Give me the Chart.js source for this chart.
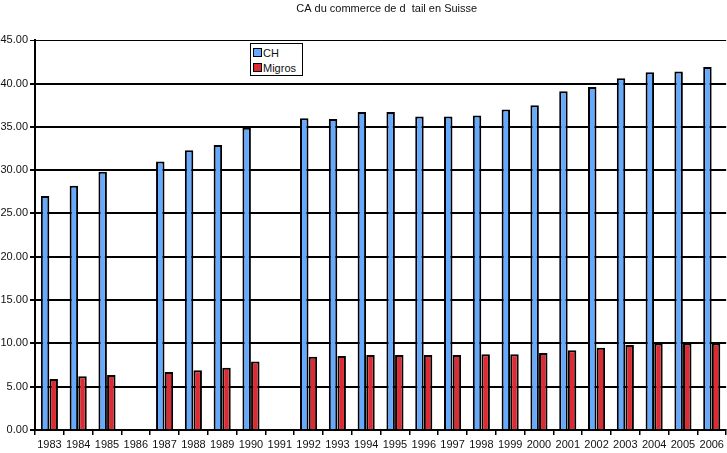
<!DOCTYPE html>
<html>
<head>
<meta charset="utf-8">
<script src="https://cdn.jsdelivr.net/npm/chart.js@4.4.0/dist/chart.umd.min.js"></script>
<style>
  body { margin: 0; background: #fff; }
  #wrap { position: relative; width: 727px; height: 453px; }
  #legend {
    position: absolute; left: 250px; top: 43px; width: 49px; height: 30px;
    border: 1.5px solid #000; background: #fff;
    font: 11px "Liberation Sans", Arial, sans-serif; color: #111;
    padding: 1px 0 0 2px;
  }
  #legend div { display: flex; align-items: center; height: 15px; }
  #legend span.sq { width: 7px; height: 7px; border: 1.5px solid #000; margin-right: 1px; }
</style>
</head>
<body>
<div id="wrap">
  <canvas id="myChart" width="727" height="453"></canvas>
  <div id="legend"></div>
</div>
<script>
const years = ['1983','1984','1985','1986','1987','1988','1989','1990','1991','1992','1993','1994',
  '1995','1996','1997','1998','1999','2000','2001','2002','2003','2004','2005','2006'];
const ch = [27.0, 28.2, 29.8, null, 31.0, 32.3, 32.9, 34.9, null, 36.0, 35.9, 36.7,
  36.7, 36.2, 36.2, 36.3, 37.0, 37.5, 39.1, 39.6, 40.6, 41.3, 41.4, 41.9];
const migros = [5.9, 6.2, 6.35, null, 6.7, 6.9, 7.2, 7.9, null, 8.45, 8.55, 8.65,
  8.65, 8.65, 8.65, 8.75, 8.75, 8.9, 9.2, 9.5, 9.8, 10.0, 10.0, 10.0];
const yTicks = [0, 5, 10, 15, 20, 25, 30, 35, 40, 45];

Chart.defaults.font.family = '"Liberation Sans", Arial, sans-serif';
Chart.defaults.font.size = 11;
Chart.defaults.color = '#111';

const data = {
    labels: years,
    datasets: [
        { label: 'CH', data: ch, backgroundColor: '#66aaff', borderColor: '#000', borderWidth: 2 },
        { label: 'Migros', data: migros, backgroundColor: '#dd2b33', borderColor: '#000', borderWidth: 2 }
    ]
};

const config = {
    type: 'bar',
    data: data,
    options: {
        responsive: false,
        animation: false,
        layout: { padding: 0 },
        datasets: { bar: { categoryPercentage: 0.6, barPercentage: 0.98 } },
        plugins: {
            legend: { display: false },
            tooltip: { enabled: false },
            title: {
                display: true,
                fullSize: false,
                // leading spaces nudge the centred title a little to the right, like the original
                text: '\u00a0\u00a0\u00a0\u00a0CA du commerce de d  tail en Suisse',
                font: { size: 11, weight: 'normal' },
                color: '#111',
                padding: { top: 2, bottom: 25 }
            }
        },
        scales: {
            x: {
                grid: { drawOnChartArea: false, color: '#000', lineWidth: 1.5, tickLength: 5, offset: true },
                border: { color: '#000', width: 2 },
                ticks: { padding: 3, maxRotation: 0, autoSkip: false },
                afterFit: (s) => { s.height = 23; }
            },
            y: {
                min: 0, max: 45,
                afterBuildTicks: (s) => { s.ticks = yTicks.map(v => ({ value: v })); },
                grid: {
                    color: '#000',
                    lineWidth: (c) => c.index === yTicks.length - 1 ? 1 : 2,
                    tickLength: 5
                },
                border: { color: '#000', width: 2 },
                ticks: { padding: 2, callback: (v) => Number(v).toFixed(2) },
                afterFit: (s) => { s.width = 35; }
            }
        }
    }
};

const myChart = new Chart(document.getElementById('myChart'), config);

const legend = document.getElementById('legend');
data.datasets.forEach(ds => {
    const row = document.createElement('div');
    row.innerHTML = '<span class="sq" style="background:' + ds.backgroundColor + '"></span>' + ds.label;
    legend.appendChild(row);
});
</script>
</body>
</html>
